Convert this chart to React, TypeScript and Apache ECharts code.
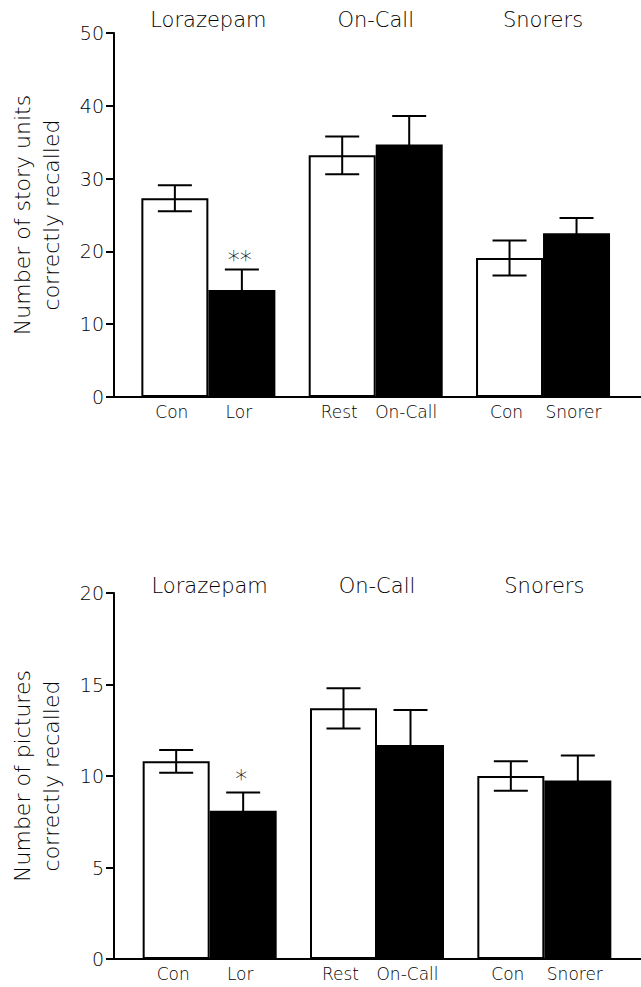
import React, { useEffect, useRef } from "react";
import * as echarts from "echarts";

const groups = ["Lorazepam", "On-Call", "Snorers"];
const whiteLabels = ["Con", "Rest", "Con"];
const blackLabels = ["Lor", "On-Call", "Snorer"];

const storyWhiteMean = [27.3, 33.2, 19.1];
const storyWhiteSem = [1.8, 2.6, 2.4];
const storyBlackMean = [14.7, 34.7, 22.5];
const storyBlackSem = [2.8, 3.9, 2.1];
const storySig = ["**", "", ""];

const pictWhiteMean = [10.8, 13.7, 10.0];
const pictWhiteSem = [0.62, 1.1, 0.8];
const pictBlackMean = [8.1, 11.7, 9.75];
const pictBlackSem = [1.0, 1.9, 1.37];
const pictSig = ["*", "", ""];

const storyAxis = { max: 50, interval: 10 };
const pictAxis = { max: 20, interval: 5 };

const FONT = "DejaVu Sans";
const WEIGHT = 200;
const INK = "#000";
const BAR_W = 67;
const CAP = 17;

function errSeries(
  xi: number,
  side: number,
  means: number[],
  sems: number[],
  labels: string[],
  sig: string[] | null,
  sigGap: number
) {
  return {
    type: "custom",
    xAxisIndex: xi,
    yAxisIndex: xi,
    z: 5,
    clip: false,
    encode: { x: 0, y: 1 },
    data: means.map((m, i) => [i, m, sems[i]]),
    renderItem: (params: any, api: any) => {
      const cat = api.value(0);
      const mean = api.value(1);
      const sem = api.value(2);
      const c = api.coord([cat, mean]);
      const cx = c[0] + (side * BAR_W) / 2;
      const yTop = api.coord([cat, mean + sem])[1];
      const yBot = api.coord([cat, mean - sem])[1];
      const y0 = api.coord([cat, 0])[1];
      const st = { stroke: "#000", lineWidth: 2 };
      const children: any[] = [
        { type: "line", shape: { x1: cx, y1: yBot, x2: cx, y2: yTop }, style: st },
        { type: "line", shape: { x1: cx - CAP, y1: yTop, x2: cx + CAP, y2: yTop }, style: st },
        { type: "line", shape: { x1: cx - CAP, y1: yBot, x2: cx + CAP, y2: yBot }, style: st },
        {
          type: "text",
          x: cx - 3,
          y: y0 + 6,
          style: {
            text: labels[cat],
            fill: INK,
            fontSize: 17,
            fontFamily: FONT,
            fontWeight: WEIGHT,
            align: "center",
            verticalAlign: "top",
          },
        },
      ];
      if (sig && sig[cat]) {
        children.push({
          type: "text",
          x: cx - 2,
          y: yTop - sigGap,
          style: {
            text: sig[cat],
            fill: INK,
            fontSize: 24,
            fontFamily: FONT,
            fontWeight: WEIGHT,
            align: "center",
            verticalAlign: "middle",
          },
        });
      }
      return { type: "group", children };
    },
  };
}

function panel(
  base: number,
  top: number,
  height: number,
  barLeft: number,
  ax: { max: number; interval: number },
  name: string,
  wMean: number[],
  wSem: number[],
  bMean: number[],
  bSem: number[],
  sig: string[],
  titleMargin: number,
  sigGap: number
) {
  const grids = [
    { left: 107, top, width: 534, height },
    { left: barLeft, top, width: 502, height },
  ];
  const xAxes = [
    {
      gridIndex: base,
      type: "value",
      min: 0,
      max: 1,
      axisLine: { show: true, lineStyle: { color: "#000", width: 2 } },
      axisTick: { show: false },
      axisLabel: { show: false },
      splitLine: { show: false },
    },
    {
      gridIndex: base + 1,
      type: "category",
      position: "top",
      data: groups,
      axisLine: { show: false },
      axisTick: { show: false },
      axisLabel: {
        show: true,
        fontSize: 21,
        fontFamily: FONT,
        fontWeight: WEIGHT,
        color: INK,
        margin: titleMargin,
      },
      splitLine: { show: false },
    },
  ];
  const yAxes = [
    {
      gridIndex: base,
      type: "value",
      min: 0,
      max: ax.max,
      interval: ax.interval,
      name,
      nameLocation: "middle",
      nameGap: 48,
      nameTextStyle: {
        fontSize: 22,
        fontFamily: FONT,
        fontWeight: WEIGHT,
        color: INK,
        lineHeight: 29,
      },
      axisLine: { show: true, lineStyle: { color: "#000", width: 2 } },
      axisTick: { show: true, length: 8, lineStyle: { color: "#000", width: 2 } },
      axisLabel: { fontSize: 19, fontFamily: FONT, fontWeight: WEIGHT, color: INK, margin: 10 },
      splitLine: { show: false },
    },
    {
      gridIndex: base + 1,
      type: "value",
      min: 0,
      max: ax.max,
      interval: ax.interval,
      show: false,
      splitLine: { show: false },
    },
  ];
  const series = [
    {
      type: "bar",
      xAxisIndex: base + 1,
      yAxisIndex: base + 1,
      data: wMean,
      barWidth: BAR_W,
      barGap: "0%",
      itemStyle: { color: "#fff", borderColor: "#000", borderWidth: 2 },
    },
    {
      type: "bar",
      xAxisIndex: base + 1,
      yAxisIndex: base + 1,
      data: bMean,
      barWidth: BAR_W,
      barGap: "0%",
      itemStyle: { color: "#000", borderColor: "#000", borderWidth: 2 },
    },
    errSeries(base + 1, -1, wMean, wSem, whiteLabels, null, 0),
    errSeries(base + 1, 1, bMean, bSem, blackLabels, sig, sigGap),
  ];
  return { grids, xAxes, yAxes, series };
}

export default function App() {
  const ref = useRef<HTMLDivElement>(null);
  useEffect(() => {
    if (!ref.current) return;
    const chart = echarts.init(ref.current, null, { renderer: "svg" });
    const p1 = panel(
      0, 33, 364, 124.7, storyAxis,
      "Number of story units\ncorrectly recalled",
      storyWhiteMean, storyWhiteSem, storyBlackMean, storyBlackSem, storySig, 3, 10
    );
    const p2 = panel(
      2, 593, 366, 126, pictAxis,
      "Number of pictures\ncorrectly recalled",
      pictWhiteMean, pictWhiteSem, pictBlackMean, pictBlackSem, pictSig, -3, 13
    );
    chart.setOption({
      animation: false,
      backgroundColor: "#fff",
      grid: [...p1.grids, ...p2.grids],
      xAxis: [...p1.xAxes, ...p2.xAxes],
      yAxis: [...p1.yAxes, ...p2.yAxes],
      series: [...p1.series, ...p2.series],
    });
    return () => chart.dispose();
  }, []);
  return (
    <div
      ref={ref}
      style={{ position: "absolute", left: 0, top: 0, width: 641, height: 987 }}
    />
  );
}
